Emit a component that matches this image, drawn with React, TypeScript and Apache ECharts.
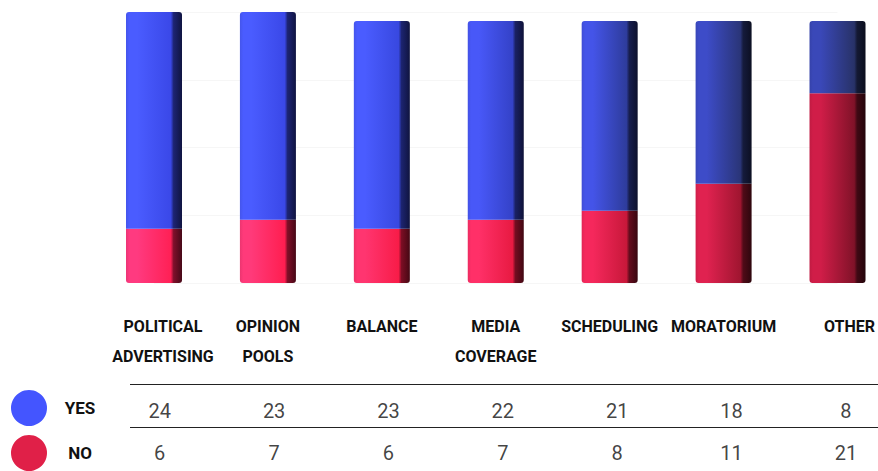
import React, { useEffect, useRef } from "react";
import * as echarts from "echarts";

const categories = [
  "POLITICAL\nADVERTISING",
  "OPINION\nPOOLS",
  "BALANCE",
  "MEDIA\nCOVERAGE",
  "SCHEDULING",
  "MORATORIUM",
  "OTHER",
];
const yesValues = [24, 23, 23, 22, 21, 18, 8];
const noValues = [6, 7, 6, 7, 8, 11, 21];
const rowLabels = ["YES", "NO"];

const yesShades = [
  ["#4a5cff", "#3a48e8"],
  ["#4a5cff", "#3a48e8"],
  ["#4a5cff", "#3848e0"],
  ["#4858f8", "#3442c8"],
  ["#4454e8", "#2e3c9c"],
  ["#3d4cc8", "#2a3578"],
  ["#3a48b8", "#283268"],
];
const noShades = [
  ["#ff3a80", "#ff2055"],
  ["#ff3a7a", "#ff1e50"],
  ["#ff3570", "#f81c48"],
  ["#ff3068", "#e81a42"],
  ["#f5285c", "#c8183a"],
  ["#e02250", "#a01530"],
  ["#d01d48", "#801228"],
];

const FONT = "Roboto, 'Liberation Sans', sans-serif";

function darken(hex: string, f: number) {
  const n = parseInt(hex.slice(1), 16);
  const r = Math.round(((n >> 16) & 255) * (1 - f));
  const g = Math.round(((n >> 8) & 255) * (1 - f));
  const b = Math.round((n & 255) * (1 - f));
  return `rgb(${r},${g},${b})`;
}

function grad(pair: string[]) {
  const [l, r] = pair;
  return new echarts.graphic.LinearGradient(0, 0, 1, 0, [
    { offset: 0, color: darken(l, 0.08) },
    { offset: 0.06, color: l },
    { offset: 0.2, color: l },
    { offset: 0.8, color: r },
    { offset: 0.85, color: darken(r, 0.5) },
    { offset: 1, color: darken(r, 0.72) },
  ]);
}

export default function App() {
  const ref = useRef<HTMLDivElement>(null);
  useEffect(() => {
    if (!ref.current) return;
    const chart = echarts.init(ref.current, null, { renderer: "svg" });
    const xData = categories.map((c, i) => {
      if (i === 0) return { value: c, textStyle: { padding: [0, 0, 0, 18] } };
      if (i === categories.length - 1) return { value: c, textStyle: { padding: [0, 0, 0, 24] } };
      return c;
    });
    chart.setOption({
      animation: false,
      backgroundColor: "#ffffff",
      grid: [
        { left: 154, right: 38, top: 12, bottom: 188 },
        { left: 130, right: 0, top: 384, bottom: -5 },
      ],
      legend: {
        data: rowLabels,
        orient: "vertical",
        left: 11,
        top: 390,
        padding: 0,
        itemWidth: 36,
        itemHeight: 36,
        itemGap: 9,
        icon: "circle",
        selectedMode: false,
        formatter: "{a|{name}}",
        textStyle: {
          rich: {
            a: {
              fontFamily: FONT,
              fontWeight: "bold",
              fontSize: 17,
              color: "#111",
              width: 56,
              align: "center",
            },
          },
        },
      },
      xAxis: [
        {
          type: "category",
          gridIndex: 0,
          data: xData,
          boundaryGap: false,
          axisLine: { show: false },
          axisTick: { show: false },
          axisLabel: {
            interval: 0,
            margin: 28,
            fontFamily: FONT,
            fontWeight: "bold",
            fontSize: 16,
            lineHeight: 30,
            color: "#111",
            verticalAlign: "top",
          },
        },
        {
          type: "value",
          gridIndex: 1,
          min: -0.26,
          max: 6.28,
          show: false,
        },
      ],
      yAxis: [
        {
          type: "value",
          gridIndex: 0,
          min: 0,
          max: 30,
          interval: 7.5,
          axisLabel: { show: false },
          axisLine: { show: false },
          axisTick: { show: false },
          splitLine: { lineStyle: { color: "#f6f6f6" } },
        },
        {
          type: "category",
          gridIndex: 1,
          data: rowLabels,
          inverse: true,
          axisLabel: { show: false },
          axisLine: { show: false },
          axisTick: { show: false },
          splitLine: { show: true, lineStyle: { color: "#222", width: 1 } },
        },
      ],
      series: [
        {
          name: "NO",
          type: "bar",
          stack: "total",
          barWidth: 56,
          clip: false,
          xAxisIndex: 0,
          yAxisIndex: 0,
          itemStyle: { color: "#e02048" },
          data: noValues.map((v, i) => ({
            value: v,
            itemStyle: { color: grad(noShades[i]), borderRadius: [0, 0, 3, 3] },
          })),
        },
        {
          name: "YES",
          type: "bar",
          stack: "total",
          barWidth: 56,
          clip: false,
          xAxisIndex: 0,
          yAxisIndex: 0,
          itemStyle: { color: "#4455ff" },
          data: yesValues.map((v, i) => ({
            value: v,
            itemStyle: { color: grad(yesShades[i]), borderRadius: [3, 3, 0, 0] },
          })),
        },
        ...rowLabels.map((row, r) => ({
          name: "table-" + row,
          type: "scatter",
          xAxisIndex: 1,
          yAxisIndex: 1,
          symbolSize: 1,
          silent: true,
          itemStyle: { color: "transparent" },
          label: {
            show: true,
            position: "inside",
            offset: [0, r === 0 ? 5 : 4],
            fontFamily: FONT,
            fontSize: 20,
            color: "#111",
            formatter: (p: any) => String((r === 0 ? yesValues : noValues)[p.dataIndex]),
          },
          data: (r === 0 ? yesValues : noValues).map((_, i) => [i, r]),
        })),
      ],
    });
    return () => chart.dispose();
  }, []);
  return (
    <div
      ref={ref}
      style={{ position: "absolute", left: 0, top: 0, width: 878, height: 471 }}
    />
  );
}
